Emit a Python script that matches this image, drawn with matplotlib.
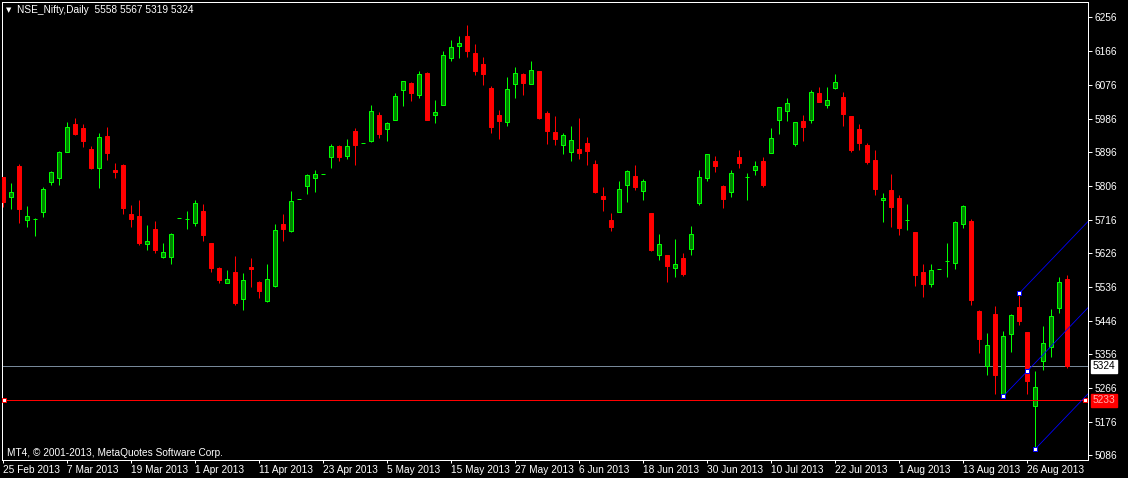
import numpy as np
import matplotlib
matplotlib.use('Agg')
import matplotlib.pyplot as plt

plt.rcParams['font.family'] = ['Liberation Sans', 'DejaVu Sans']

# daily OHLC of NSE Nifty, bar 0 = 25 Feb 2013
opens = [5829, 5777, 5860, 5715, 5717, 5737, 5817, 5828, 5897, 5971,
         5961, 5904, 5854, 5939, 5848, 5862, 5731, 5725, 5651, 5691,
         5616, 5616, 5719, 5717, 5707, 5739, 5653, 5587, 5547, 5576,
         5504, 5589, 5549, 5498, 5538, 5704, 5685, 5770, 5806, 5828,
         5837, 5884, 5912, 5887, 5953, 5920, 5927, 5995, 5959, 5982,
         6062, 6081, 6049, 6108, 5995, 6022, 6148, 6181, 6206, 6161,
         6132, 6068, 5995, 5977, 6078, 6105, 6078, 6113, 6001, 5950,
         5915, 5897, 5904, 5920, 5864, 5779, 5715, 5736, 5808, 5832,
         5792, 5733, 5621, 5621, 5587, 5613, 5637, 5760, 5827, 5872,
         5806, 5790, 5883, 5829, 5848, 5872, 5895, 5982, 6006, 5918,
         5979, 5982, 6054, 6022, 6067, 6043, 5993, 5958, 5915, 5875,
         5768, 5795, 5774, 5714, 5683, 5576, 5544, 5584, 5605, 5600,
         5704, 5712, 5472, 5325, 5464, 5244, 5410, 5482, 5415, 5218,
         5338, 5375, 5480, 5558]
highs = [5830, 5814, 5864, 5752, 5720, 5803, 5846, 5899, 5977, 5987,
         5971, 5912, 5947, 5963, 5867, 5864, 5755, 5768, 5701, 5712,
         5653, 5680, 5719, 5739, 5768, 5758, 5654, 5589, 5581, 5619,
         5573, 5613, 5552, 5597, 5704, 5731, 5792, 5770, 5838, 5848,
         5837, 5918, 5915, 5931, 5961, 5920, 6022, 6003, 5977, 6054,
         6087, 6084, 6113, 6109, 6035, 6166, 6196, 6206, 6236, 6185,
         6150, 6073, 6009, 6097, 6124, 6108, 6140, 6114, 6006, 5993,
         5947, 5966, 5987, 5936, 5875, 5803, 5733, 5819, 5848, 5862,
         5824, 5734, 5677, 5622, 5664, 5627, 5699, 5848, 5892, 5886,
         5807, 5848, 5902, 5840, 5872, 5883, 5961, 6017, 6041, 5977,
         5995, 6062, 6070, 6070, 6105, 6057, 5994, 5971, 5920, 5902,
         5787, 5838, 5782, 5758, 5684, 5597, 5597, 5584, 5653, 5712,
         5755, 5717, 5473, 5413, 5485, 5418, 5464, 5520, 5416, 5311,
         5432, 5477, 5562, 5567]
lows = [5750, 5744, 5708, 5697, 5672, 5724, 5808, 5808, 5896, 5942,
        5910, 5851, 5801, 5875, 5827, 5731, 5696, 5648, 5635, 5627,
        5613, 5597, 5719, 5691, 5699, 5659, 5576, 5546, 5546, 5488,
        5474, 5536, 5506, 5497, 5537, 5659, 5683, 5770, 5784, 5790,
        5837, 5854, 5872, 5878, 5862, 5920, 5923, 5934, 5926, 5981,
        6019, 6033, 6041, 5981, 5974, 6021, 6140, 6148, 6150, 6102,
        6076, 5947, 5931, 5966, 6041, 6049, 6077, 5985, 5918, 5915,
        5891, 5872, 5878, 5862, 5787, 5739, 5685, 5735, 5763, 5795,
        5768, 5632, 5608, 5549, 5562, 5565, 5621, 5755, 5819, 5843,
        5747, 5776, 5854, 5768, 5835, 5803, 5893, 5945, 5979, 5912,
        5926, 5974, 6029, 6014, 6065, 5966, 5896, 5902, 5864, 5782,
        5709, 5696, 5675, 5688, 5538, 5509, 5536, 5584, 5562, 5584,
        5693, 5488, 5359, 5301, 5250, 5244, 5362, 5434, 5250, 5103,
        5314, 5349, 5466, 5319]
closes = [5764, 5789, 5744, 5726, 5717, 5798, 5843, 5896, 5963, 5945,
          5926, 5854, 5936, 5894, 5844, 5748, 5717, 5653, 5659, 5635,
          5629, 5677, 5719, 5717, 5760, 5675, 5587, 5554, 5557, 5493,
          5554, 5584, 5525, 5557, 5688, 5691, 5766, 5770, 5835, 5838,
          5837, 5912, 5884, 5912, 5915, 5920, 6006, 5945, 5974, 6046,
          6086, 6054, 6105, 5982, 6003, 6156, 6177, 6188, 6166, 6113,
          6105, 5963, 5979, 6065, 6108, 6081, 6116, 5987, 5953, 5931,
          5942, 5929, 5894, 5899, 5790, 5771, 5696, 5798, 5846, 5803,
          5819, 5635, 5651, 5592, 5597, 5570, 5677, 5830, 5891, 5859,
          5771, 5840, 5867, 5829, 5859, 5808, 5934, 6017, 6027, 5977,
          5963, 6057, 6030, 6035, 6083, 5998, 5902, 5920, 5870, 5798,
          5774, 5750, 5693, 5714, 5568, 5544, 5581, 5584, 5606, 5709,
          5752, 5501, 5397, 5381, 5301, 5405, 5461, 5445, 5285, 5269,
          5386, 5458, 5549, 5324]

date_labels = ['25 Feb 2013', '7 Mar 2013', '19 Mar 2013', '1 Apr 2013',
               '11 Apr 2013', '23 Apr 2013', '5 May 2013', '15 May 2013',
               '27 May 2013', '6 Jun 2013', '18 Jun 2013', '30 Jun 2013',
               '10 Jul 2013', '22 Jul 2013', '1 Aug 2013', '13 Aug 2013',
               '26 Aug 2013']
price_ticks = [6256, 6166, 6076, 5986, 5896, 5806, 5716, 5626, 5536,
               5446, 5356, 5266, 5176, 5086]

# pitchfork anchor points (bar index, price)
fork_bars = [125, 127, 129]
fork_prices = [5244, 5519, 5103]

bid_price = 5324
level_price = 5233

o = np.array(opens)
h = np.array(highs)
l = np.array(lows)
c = np.array(closes)
x = np.arange(len(o))
up = c >= o

W, H = 1128, 478
fig = plt.figure(figsize=(W / 100, H / 100), dpi=100, facecolor='black')
ax = fig.add_axes([2 / W, 18 / H, 1086 / W, 458 / H], facecolor='black')

px = 0.72  # one pixel in points

# wicks
ax.vlines(x[up], l[up], h[up], color='#00ff00', lw=px, zorder=2)
ax.vlines(x[~up], l[~up], h[~up], color='#ff0000', lw=px, zorder=2)

# bodies
ax.bar(x[up], c[up] - o[up], bottom=o[up], width=0.5,
       facecolor='#008000', edgecolor='#00ff00', linewidth=px, zorder=3)
ax.bar(x[~up], o[~up] - c[~up], bottom=c[~up], width=0.5,
       facecolor='#ff0000', edgecolor='#ff0000', linewidth=px, zorder=3)

xmin, xmax = -0.16, 135.59
ax.set_xlim(xmin, xmax)
ax.set_ylim(5073.5, 6297.3)

# bid line and horizontal level
ax.axhline(bid_price, color='#778899', lw=px, zorder=1, antialiased=False)
ax.plot([xmin + 0.25, xmax - 0.35], [level_price, level_price], color='#ff0000',
        lw=px, zorder=4, antialiased=False)
ax.plot([xmin + 0.25, xmax - 0.35], [level_price, level_price], ls='none',
        marker='s', markersize=3.2, markerfacecolor='white',
        markeredgecolor='#ff0000', markeredgewidth=px, zorder=4)

# Andrews pitchfork
fb = np.array(fork_bars, dtype=float)
fp = np.array(fork_prices, dtype=float)
mid_b, mid_p = (fb[1] + fb[2]) / 2, (fp[1] + fp[2]) / 2
slope = (mid_p - fp[0]) / (mid_b - fb[0])
for sb, sp in zip(fb, fp):
    ax.plot([sb, xmax], [sp, sp + slope * (xmax - sb)], color='#0000ff',
            lw=0.6, zorder=5)
ax.plot(list(fb) + [mid_b], list(fp) + [mid_p], ls='none', marker='s',
        markersize=3.2, markerfacecolor='white', markeredgecolor='#0000ff',
        markeredgewidth=px, zorder=6)

# axes styling
for s in ax.spines.values():
    s.set_color('white')
    s.set_linewidth(px)
ax.yaxis.tick_right()
ax.set_yticks(price_ticks)
ax.set_yticklabels([str(p) for p in price_ticks])
ax.set_xticks(x[::8][:len(date_labels)])
ax.set_xticklabels(date_labels)
for lab in ax.get_xticklabels():
    lab.set_horizontalalignment('left')
ax.tick_params(axis='y', colors='white', length=3, width=px, pad=1.5,
               labelsize=7.3)
ax.tick_params(axis='x', colors='white', length=2.5, width=px, pad=1.2,
               labelsize=7.3)

# price labels on the right scale
ytr = ax.get_yaxis_transform()
ax.text(1.0 + 5 / 1086, bid_price, str(bid_price), transform=ytr,
        color='black', fontsize=7.3, va='center', ha='left', clip_on=False,
        bbox=dict(boxstyle='square,pad=0.15', fc='white', ec='white'))
ax.text(1.0 + 5 / 1086, level_price, str(level_price), transform=ytr,
        color='#ffb0b0', fontsize=7.3, va='center', ha='left', clip_on=False,
        bbox=dict(boxstyle='square,pad=0.15', fc='#ff0000', ec='#ff0000'))

# header and copyright
fig.text(6 / W, 1 - 10 / H, '\u25bc', color='white', fontsize=5,
         va='center', ha='left', family='DejaVu Sans')
fig.text(17 / W, 1 - 10 / H, 'NSE_Nifty,Daily  %d %d %d %d'
         % (opens[-1], highs[-1], lows[-1], closes[-1]),
         color='white', fontsize=7.3, va='center', ha='left')
fig.text(7 / W, 1 - 453 / H, 'MT4, \u00a9 2001-2013, MetaQuotes Software Corp.',
         color='white', fontsize=7.3, va='center', ha='left')

fig.savefig('out.png', dpi=100, facecolor='black')
